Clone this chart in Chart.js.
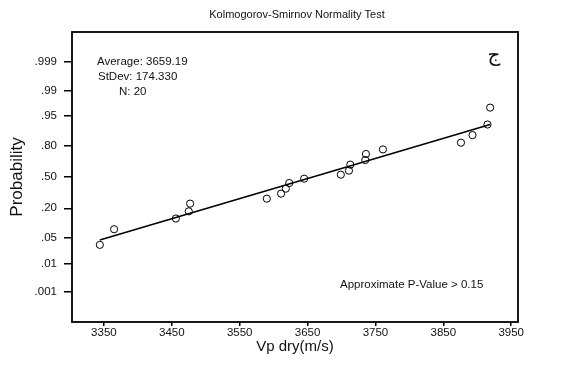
<!DOCTYPE html>
<html>
<head>
<meta charset="utf-8">
<script src="https://cdn.jsdelivr.net/npm/chart.js@4"></script>
<style>
  body { margin: 0; background: #fff; }
  canvas { display: block; }
</style>
</head>
<body>
<canvas id="ksChart" width="581" height="376"></canvas>
<script>
// values
var vpDry = [3344, 3365, 3456, 3475, 3477, 3590, 3611, 3618, 3623, 3645,
             3699, 3711, 3713, 3735, 3736, 3761, 3876, 3893, 3915, 3919];
var probability = [0.034, 0.080, 0.132, 0.178, 0.237, 0.280, 0.327, 0.377, 0.436, 0.482,
                   0.525, 0.568, 0.630, 0.676, 0.732, 0.771, 0.822, 0.870, 0.921, 0.969];
// fitted line end points
var fitX = [3344, 3919];
var fitP = [0.045, 0.921];

var xTicks = [3350, 3450, 3550, 3650, 3750, 3850, 3950];
var yTickProbs = [0.001, 0.01, 0.05, 0.20, 0.50, 0.80, 0.95, 0.99, 0.999];
var yTickLabels = ['.001', '.01', '.05', '.20', '.50', '.80', '.95', '.99', '.999'];

var statLines = ['Average: 3659.19', 'StDev: 174.330', 'N: 20'];
var pValueText = 'Approximate P-Value > 0.15';

// inverse normal cdf (Acklam) - used as the probability scale transform
function probit(p) {
    var a = [-3.969683028665376e+01, 2.209460984245205e+02, -2.759285104469687e+02,
             1.383577518672690e+02, -3.066479806614716e+01, 2.506628277459239e+00];
    var b = [-5.447609879822406e+01, 1.615858368580409e+02, -1.556989798598866e+02,
             6.680131188771972e+01, -1.328068155288572e+01];
    var c = [-7.784894002430293e-03, -3.223964580411365e-01, -2.400758277161838e+00,
             -2.549732539343734e+00, 4.374664141464968e+00, 2.938163982698783e+00];
    var d = [7.784695709041462e-03, 3.224671290700398e-01, 2.445134137142996e+00,
             3.754408661907416e+00];
    var pl = 0.02425, q, r;
    if (p < pl) {
        q = Math.sqrt(-2 * Math.log(p));
        return (((((c[0]*q+c[1])*q+c[2])*q+c[3])*q+c[4])*q+c[5]) /
               ((((d[0]*q+d[1])*q+d[2])*q+d[3])*q+1);
    }
    if (p <= 1 - pl) {
        q = p - 0.5; r = q * q;
        return (((((a[0]*r+a[1])*r+a[2])*r+a[3])*r+a[4])*r+a[5])*q /
               (((((b[0]*r+b[1])*r+b[2])*r+b[3])*r+b[4])*r+1);
    }
    q = Math.sqrt(-2 * Math.log(1 - p));
    return -(((((c[0]*q+c[1])*q+c[2])*q+c[3])*q+c[4])*q+c[5]) /
            ((((d[0]*q+d[1])*q+d[2])*q+d[3])*q+1);
}

var FONT = 'Liberation Sans, Arial, sans-serif';

var annotations = {
    id: 'annotations',
    afterDraw: function(chart) {
        var ctx = chart.ctx, a = chart.chartArea;
        ctx.save();
        // frame
        ctx.strokeStyle = '#000';
        ctx.lineWidth = 1.8;
        ctx.strokeRect(a.left, a.top, a.right - a.left, a.bottom - a.top);

        ctx.fillStyle = '#111';
        ctx.font = '11px ' + FONT;
        ctx.textBaseline = 'middle';
        ctx.textAlign = 'center';
        ctx.fillText('Kolmogorov-Smirnov Normality Test', (a.left + a.right) / 2 + 2, 15);

        ctx.font = '11.5px ' + FONT;
        ctx.textAlign = 'left';
        ctx.fillText(statLines[0], 97, 62);
        ctx.fillText(statLines[1], 98, 77);
        ctx.fillText(statLines[2], 119, 92);

        ctx.fillText(pValueText, 340, 285);

        ctx.font = '20px DejaVu Sans, sans-serif';
        ctx.textAlign = 'center';
        ctx.fillText('ج', 494, 56);
        ctx.restore();
    }
};

var ctx = document.getElementById('ksChart').getContext('2d');
var ksChart = new Chart(ctx, {
    data: {
        datasets: [{
            type: 'line',
            data: fitX.map(function(x, i) { return {x: x, y: probit(fitP[i])}; }),
            borderColor: '#000',
            borderWidth: 1.6,
            pointRadius: 0,
            fill: false
        }, {
            type: 'scatter',
            data: vpDry.map(function(x, i) { return {x: x, y: probit(probability[i])}; }),
            pointRadius: 3.6,
            pointBorderColor: '#000',
            pointBackgroundColor: 'rgba(0,0,0,0)',
            pointBorderWidth: 1
        }]
    },
    options: {
        responsive: false,
        animation: false,
        layout: { padding: { top: 32, right: 63, left: 0, bottom: 0 } },
        plugins: {
            legend: { display: false },
            tooltip: { enabled: false }
        },
        scales: {
            x: {
                type: 'linear',
                min: 3303,
                max: 3960,
                afterBuildTicks: function(scale) {
                    scale.ticks = xTicks.map(function(v) { return {value: v}; });
                },
                afterFit: function(scale) { scale.height = 54; },
                grid: { display: true, drawOnChartArea: false, drawTicks: true,
                        tickLength: 4, color: '#000', lineWidth: 1.5 },
                border: { display: false },
                ticks: {
                    color: '#111',
                    font: { family: FONT, size: 11.5 },
                    padding: 0,
                    maxRotation: 0,
                    callback: function(v) { return v; }
                },
                title: {
                    display: true,
                    text: 'Vp dry(m/s)',
                    color: '#111',
                    font: { family: FONT, size: 15 },
                    padding: { top: 0, bottom: 20 }
                }
            },
            y: {
                type: 'linear',
                min: -3.9,
                max: 3.9,
                afterBuildTicks: function(scale) {
                    scale.ticks = yTickProbs.map(function(p) { return {value: probit(p)}; });
                },
                afterFit: function(scale) { scale.width = 72; },
                grid: { display: true, drawOnChartArea: false, drawTicks: true,
                        tickLength: 8, color: '#000', lineWidth: 1.5 },
                border: { display: false },
                ticks: {
                    color: '#111',
                    font: { family: FONT, size: 11.5 },
                    padding: 7,
                    callback: function(v, i) { return yTickLabels[i]; }
                },
                title: {
                    display: true,
                    text: 'Probability',
                    color: '#111',
                    font: { family: FONT, size: 17 },
                    padding: { top: 7, bottom: 0 }
                }
            }
        }
    },
    plugins: [annotations]
});
</script>
</body>
</html>
